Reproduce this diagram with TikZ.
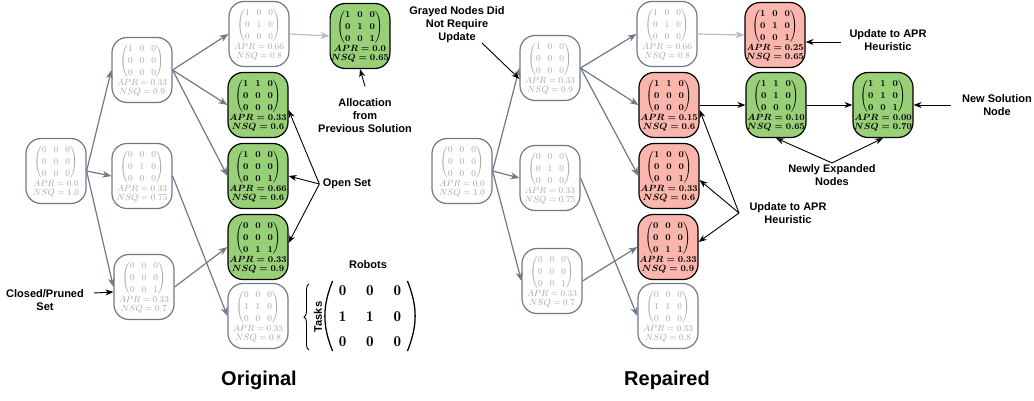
\documentclass[tikz,border=0pt]{standalone}
\usepackage{amsmath}
\usepackage{fontspec}
\newfontfamily\labelfont{Liberation Sans}
\usepackage{xcolor}
\usepackage{tikz}
\usetikzlibrary{arrows.meta}
\usetikzlibrary{decorations.pathreplacing}
\definecolor{slate}{HTML}{717989}
\definecolor{palegray}{HTML}{A6A6A6}
\definecolor{leafgreen}{HTML}{97D077}
\definecolor{salmon}{HTML}{FAB6AC}
\setlength{\arraycolsep}{3.5pt}
\newcommand*{\alloc}[3]{{\renewcommand{\arraystretch}{1.18}$\begin{pmatrix}#1\end{pmatrix}$}\\[0pt]$APR=#2$\\[-1pt]$NSQ=#3$}
\tikzset{
  state/.style={rounded corners=15pt,minimum width=60pt,minimum height=65pt,inner sep=1pt,align=center,line width=1.2pt,font=\fontsize{9}{10}\selectfont},
  graynode/.style={state,draw=slate,fill=white,text=palegray},
  opennode/.style={state,draw=black,fill=leafgreen,text=black,font=\fontsize{9}{10}\selectfont\boldmath},
  fixnode/.style={state,draw=black,fill=salmon,text=black,font=\fontsize{9}{10}\selectfont\boldmath},
  tree/.style={draw=slate,line width=1.2pt,-{Stealth[length=9pt,width=7pt]}},
  lighttree/.style={tree,draw=slate!50},
  annot/.style={draw=black,line width=0.9pt,-{Stealth[length=8pt,width=6pt]}},
  lbl/.style={font=\labelfont\bfseries\fontsize{11}{13}\selectfont,align=center},
  title/.style={font=\labelfont\bfseries\fontsize{20}{24}\selectfont}
}
\begin{document}
\begin{tikzpicture}[x=1pt,y=1pt]
\useasboundingbox (0,0) rectangle (1034,-401);

% original search tree
\node[graynode] (R0) at (56,-171) {\alloc{0&0&0\\0&0&0\\0&0&0}{0.0}{1.0}};
\node[graynode] (A1) at (142,-70) {\alloc{1&0&0\\0&0&0\\0&0&0}{0.33}{0.9}};
\node[graynode] (A2) at (142,-176) {\alloc{0&0&0\\0&1&0\\0&0&0}{0.33}{0.75}};
\node[graynode] (A3) at (144,-287) {\alloc{0&0&0\\0&0&0\\0&0&1}{0.33}{0.7}};
\node[graynode] (B1) at (259,-34) {\alloc{1&0&0\\0&1&0\\0&0&0}{0.66}{0.8}};
\node[opennode] (B2) at (258,-105) {\alloc{1&1&0\\0&0&0\\0&0&0}{0.33}{0.6}};
\node[opennode] (B3) at (258,-176) {\alloc{1&0&0\\0&0&0\\0&0&1}{0.66}{0.6}};
\node[opennode] (B4) at (258,-247) {\alloc{0&0&0\\0&0&0\\0&1&1}{0.33}{0.9}};
\node[graynode] (B5) at (258,-316) {\alloc{0&0&0\\1&1&0\\0&0&0}{0.33}{0.8}};
\node[opennode,minimum width=52pt] (C1) at (360,-36) {\alloc{1&0&0\\0&1&0\\0&0&1}{0.0}{0.65}};

\draw[tree] (R0.east) -- (A1.west);
\draw[tree] (R0.east) -- (A2.west);
\draw[tree] (R0.east) -- (A3.west);
\draw[tree] (A1.east) -- (B1.west);
\draw[tree] (A1.east) -- (B2.west);
\draw[tree] (A1.east) -- (B3.west);
\draw[tree] (A2.east) -- (B5.west);
\draw[tree] (A3.east) -- (B4.west);
\draw[lighttree] (B1.east) -- (C1.west);

\node[lbl] (prevTxt) at (365,-116) {Allocation\\from\\Previous Solution};
\draw[annot] ([yshift=9pt]prevTxt.north) -- (C1.south);
\node[lbl] (openTxt) at (347,-184) {Open Set};
\draw[annot] (openTxt.west) -- ([yshift=-5pt]B2.east);
\draw[annot] (openTxt.west) -- (B3.east);
\draw[annot] (openTxt.west) -- ([yshift=4pt]B4.east);
\node[lbl] (closedTxt) at (45,-300) {Closed/Pruned\\Set};
\coordinate (closedTail) at (94,-293);
\draw[annot] (closedTail) -- ([yshift=-5pt]A3.west);

% legend matrix
\node[inner sep=0pt,font=\fontsize{15}{18}\selectfont] (bigmat) at (370,-316)
  {\setlength{\arraycolsep}{10pt}\renewcommand{\arraystretch}{1.4}$\begin{matrix}\mathbf{0}&\mathbf{0}&\mathbf{0}\\\mathbf{1}&\mathbf{1}&\mathbf{0}\\\mathbf{0}&\mathbf{0}&\mathbf{0}\end{matrix}$};
\draw[line width=1.3pt] ([xshift=-6pt,yshift=-3pt]bigmat.north west) to[bend right=22] ([xshift=-6pt,yshift=3pt]bigmat.south west);
\draw[line width=1.3pt] ([xshift=6pt,yshift=-3pt]bigmat.north east) to[bend left=22] ([xshift=6pt,yshift=3pt]bigmat.south east);
\node[lbl] (robotsTxt) at (368,-265) {Robots};
\draw[decorate,decoration={brace,amplitude=5pt},line width=0.9pt] (309,-350) -- (309,-284);
\node[lbl,rotate=90,inner sep=1pt] (tasksTxt) at (318,-317) {Tasks};
\node[title] (origTxt) at (259,-380) {Original};

% repaired search tree
\node[graynode] (R0r) at (462,-171) {\alloc{0&0&0\\0&0&0\\0&0&0}{0.0}{1.0}};
\node[graynode] (A1r) at (550,-68) {\alloc{1&0&0\\0&0&0\\0&0&0}{0.33}{0.9}};
\node[graynode] (A2r) at (550,-178) {\alloc{0&0&0\\0&1&0\\0&0&0}{0.33}{0.75}};
\node[graynode] (A3r) at (552,-281) {\alloc{0&0&0\\0&0&0\\0&0&1}{0.33}{0.7}};
\node[graynode] (B1r) at (667,-34) {\alloc{1&0&0\\0&1&0\\0&0&0}{0.66}{0.8}};
\node[fixnode] (B2r) at (669,-105) {\alloc{1&1&0\\0&0&0\\0&0&0}{0.15}{0.6}};
\node[fixnode] (B3r) at (669,-176) {\alloc{1&0&0\\0&0&0\\0&0&1}{0.33}{0.6}};
\node[fixnode] (B4r) at (668,-247) {\alloc{0&0&0\\0&0&0\\0&1&1}{0.33}{0.9}};
\node[graynode] (B5r) at (668,-316) {\alloc{0&0&0\\1&1&0\\0&0&0}{0.33}{0.8}};
\node[fixnode] (C1r) at (775,-35) {\alloc{1&0&0\\0&1&0\\0&0&1}{0.25}{0.65}};
\node[opennode] (D1) at (776,-105) {\alloc{1&1&0\\0&1&0\\0&0&0}{0.10}{0.65}};
\node[opennode] (D2) at (883,-105) {\alloc{1&1&0\\0&1&0\\0&0&1}{0.00}{0.70}};

\draw[tree] (R0r.east) -- (A1r.west);
\draw[tree] (R0r.east) -- (A2r.west);
\draw[tree] (R0r.east) -- (A3r.west);
\draw[tree] (A1r.east) -- (B1r.west);
\draw[tree] (A1r.east) -- (B2r.west);
\draw[tree] (A1r.east) -- (B3r.west);
\draw[tree] (A2r.east) -- (B5r.west);
\draw[tree] (A3r.east) -- (B4r.west);
\draw[lighttree] (B1r.east) -- (C1r.west);
\draw[annot] (B2r.east) -- (D1.west);
\draw[annot] (D1.east) -- (D2.west);

\node[lbl] (grayTxt) at (457,-25) {Grayed Nodes Did\\Not Require\\Update};
\coordinate (grayTail) at (482,-43);
\draw[annot] (grayTail) -- ([yshift=-11pt]A1r.west);
\node[lbl] (updTopTxt) at (888,-40) {Update to APR\\Heuristic};
\coordinate (updTopTail) at (841,-42);
\draw[annot] (updTopTail) -- ([yshift=-7pt]C1r.east);
\node[lbl] (newTxt) at (997,-105) {New Solution\\Node};
\draw[annot] ([xshift=-8pt]newTxt.west) -- (D2.east);
\node[lbl] (newlyTxt) at (832,-175) {Newly Expanded\\Nodes};
\draw[annot] ([yshift=-2pt]newlyTxt.north) -- (D1.south);
\draw[annot] ([yshift=-2pt]newlyTxt.north) -- (D2.south);
\node[lbl] (updBotTxt) at (788,-213) {Update to APR\\Heuristic};
\coordinate (updTail) at (739,-213);
\draw[annot] (updTail) -- ([yshift=-5pt]B2r.east);
\draw[annot] (updTail) -- ([yshift=-4pt]B3r.east);
\draw[annot] (updTail) -- ([yshift=5pt]B4r.east);
\node[title] (repTxt) at (667,-380) {Repaired};
\end{tikzpicture}
\end{document}
